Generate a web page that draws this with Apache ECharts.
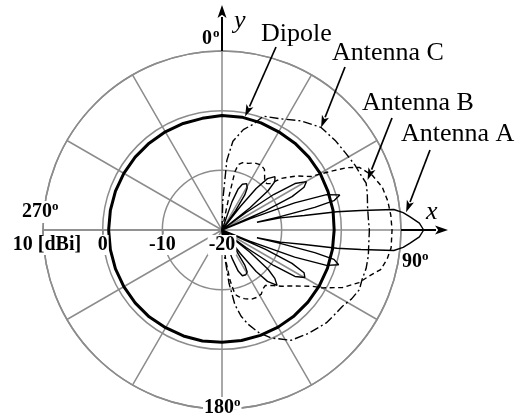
<!DOCTYPE html>
<html>
<head>
<meta charset="utf-8">
<script src="https://cdn.jsdelivr.net/npm/echarts@6/dist/echarts.min.js"></script>
<style>
  html, body { margin: 0; padding: 0; background: #fff; }
  #chart { width: 521px; height: 419px; }
</style>
</head>
<body>
<div id="chart"></div>
<script>
// Radiation patterns in the x-y plane: [angle in degrees (0 = +y, clockwise), gain in dBi]
const dipole = [
  [-90,-1],[-80,-1],[-70,-1],[-60,-1],[-50,-1],[-40,-1],[-30,-1],[-20,-1],[-10,-1],
  [0,-0.8],[10,-0.8],[20,-0.9],[30,-1],[40,-1],[50,-1],[60,-1],[70,-1.1],[80,-1.1],
  [90,-1.2],[100,-1.2],[110,-1.2],[120,-1.2],[130,-1.2],[140,-1.2],[150,-1.2],[160,-1.2],
  [170,-1.2],[180,-1.2],[190,-1.1],[200,-1.1],[210,-1.1],[220,-1],[230,-1],[240,-1],
  [250,-1],[260,-1],[270,-1]
];

const antennaA = [
  [0,-20],[18,-20],[19.5,-15],[21.5,-12.6],[24,-11.6],[28,-11.2],[31,-11.8],[33,-13],[35,-16],[36.5,-20],
  [38,-15],[39.5,-11],[41.5,-8.5],[44.8,-7.4],[47.5,-8.0],[49.5,-9.8],[51.5,-14],[52.5,-20],
  [54,-15],[55.5,-9.5],[57.5,-5.5],[60.2,-3.7],[62.5,-4.5],[64.5,-7],[66,-12],[67,-20],
  [68,-15],[69.5,-7],[71.3,-1.5],[73.4,0.6],[75.3,-0.6],[76.3,-4],[77,-10],[77.5,-14],
  [78.3,-10],[80,-6],[81,-0.5],[82,3.5],[83.2,9],[84.5,10.5],[86,11.6],[88,13.1],[90,13.8],
  [92,13.1],[94,11.6],[95.5,10.5],[96.8,9],[98,3.5],[99,-0.5],[100,-6],[101.7,-10],[102.5,-14],
  [103,-10],[103.7,-4],[104.7,-0.6],[106.6,0.4],[108.7,-1.5],[110.5,-7],[112,-15],[113,-20],
  [114,-12],[115.5,-7],[117.5,-4.5],[119.8,-4],[122.5,-5.5],[124.5,-9.5],[126,-15],[127.5,-20],
  [128.5,-14],[130.5,-9.8],[132.5,-8.0],[135.2,-6.9],[138.5,-8.5],[140.5,-11],[142,-15],[143.5,-20],
  [145,-16],[147,-13],[149,-11.8],[152,-11.5],[156,-11.6],[158.5,-12.6],[160.5,-15],[162,-20],[180,-20]
];

const antennaB = [
  [0,-20],[11,-20],[11.8,-14],[12.5,-10],[14,-8.7],[17,-8.2],[21.5,-8.0],[26,-7.5],[31,-7.3],
  [35,-7.6],[38,-8.4],[41,-9.1],[44,-9.2],[46,-8.8],[49,-6.8],[54,-4.6],[59,-2.6],[62,1.2],
  [63.5,3.4],[65.5,5.3],[70,6.8],[75,7.8],[80,8.2],[85,8.4],[90,8.5],[96,8.5],[100,8.1],
  [104,7.4],[107.5,5.8],[111,4.6],[115.5,2.4],[120,-0.6],[122,-2.2],[125,-3.6],[130,-5.4],
  [133.5,-6.3],[138,-7.5],[142,-8.2],[145,-8.0],[148.5,-7.4],[153,-7.3],[157,-7.4],[162,-7.9],
  [166,-8.5],[168.6,-9.0],[171,-11.5],[173,-15],[174,-20],[180,-20]
];

const antennaC = [
  [0,-20],[1.5,-15],[4,-8.3],[7,-5],[12,-2.8],[16.5,-1.5],[20,0.3],[28,1.1],[36,2.6],[44,3.9],
  [52,4.2],[58,4.4],[64,4.8],[68,5.0],[72,5.4],[76,5.1],[81,4.7],[86,4.6],[90,4.7],[95,4.7],
  [100,4.9],[105,5.0],[109.5,4.9],[113.5,5.1],[118,4.6],[122.3,3.9],[127,3.6],[131.7,3.4],
  [140,2.6],[148,1.8],[155.4,-0.1],[160,-1.6],[164.5,-3.6],[167.5,-5.2],[170.2,-7.3],
  [172.5,-11],[174,-15.3],[176,-20],[180,-20]
];

// Gain scale of the grid and its labels; the pattern scale reaches past the outer ring
const gainMin = -20, gainMax = 10, gainStep = 10, patternMax = 15;
const gainLabels = { '-20': '-20', '-10': '-10', '0': '0', '10': '{unit|10 [dBi]}' };

const GRID = '#8c8c8c';
const SERIF = '"Liberation Serif", "Times New Roman", serif';
const CENTER = [222, 230];
const RADIUS = 179;
// same dB-per-pixel scale as the grid, extended so the main lobe is not cut off
const PATTERN_RADIUS = RADIUS * (patternMax - gainMin) / (gainMax - gainMin);

const chart = echarts.init(document.getElementById('chart'), null, { renderer: 'canvas' });

// 0 deg at the top, clockwise; the gain axis runs out along 270 deg
const angleBase = { type: 'value', startAngle: 180, min: -90, max: 270, interval: 30, clockwise: true };
const toPolar = arr => arr.map(([a, g]) => [g, a]);

function patternSeries(name, data, lineStyle) {
  return {
    name, type: 'line', coordinateSystem: 'polar', polarIndex: 2,
    data: toPolar(data), showSymbol: false, symbol: 'none', clip: false,
    silent: true, smooth: false, lineStyle, z: 3
  };
}

chart.setOption({
  animation: false,
  polar: [
    { center: CENTER, radius: RADIUS },
    { center: CENTER, radius: RADIUS },
    { center: CENTER, radius: PATTERN_RADIUS }
  ],
  angleAxis: [
    Object.assign({ polarIndex: 0,
      axisLine: { lineStyle: { color: GRID, width: 1.5 } },
      axisTick: { show: false }, axisLabel: { show: false },
      splitLine: { lineStyle: { color: GRID, width: 1.5 } } }, angleBase),
    Object.assign({ polarIndex: 1, show: false }, angleBase),
    Object.assign({ polarIndex: 2, show: false }, angleBase)
  ],
  radiusAxis: [
    { polarIndex: 0, type: 'value', min: gainMin, max: gainMax, interval: gainStep,
      axisLine: { lineStyle: { color: GRID, width: 1.5 } },
      axisTick: { show: true, length: 4, lineStyle: { color: GRID, width: 1.5 } },
      axisLabel: { show: false },
      splitLine: { lineStyle: { color: GRID, width: 1.5 } } },
    { polarIndex: 1, type: 'value', min: gainMin, max: gainMax, interval: gainStep, z: 10,
      axisLine: { show: false }, axisTick: { show: false }, splitLine: { show: false },
      axisLabel: { show: true, margin: 5, color: '#000', fontFamily: SERIF, fontWeight: 'bold',
        fontSize: 20, backgroundColor: '#fff', padding: [0, 1],
        rich: { unit: { fontFamily: SERIF, fontWeight: 'bold', fontSize: 20, color: '#000', padding: [0, 0, 0, 8] } },
        formatter: v => gainLabels[String(v)] } },
    { polarIndex: 2, type: 'value', min: gainMin, max: patternMax, show: false }
  ],
  series: [
    patternSeries('Dipole', dipole, { color: '#000', width: 3 }),
    patternSeries('Antenna C', antennaC, { color: '#000', width: 1.4, type: [9, 3, 2, 3] }),
    patternSeries('Antenna B', antennaB, { color: '#000', width: 1.4, type: [5, 3.5] }),
    patternSeries('Antenna A', antennaA, { color: '#000', width: 1.4 })
  ]
});

// Annotations: axis arrows, angle marks, pattern callouts
const px = (g, a) => chart.convertToPixel({ polarIndex: 2 }, [g, a]);

function arrow(from, to, width, headLen, headHalf) {
  const dx = to[0] - from[0], dy = to[1] - from[1];
  const len = Math.hypot(dx, dy), ux = dx / len, uy = dy / len;
  const bx = to[0] - ux * headLen, by = to[1] - uy * headLen;
  return [
    { type: 'line', silent: true, z: 20,
      shape: { x1: from[0], y1: from[1], x2: bx + ux * 1, y2: by + uy * 1 },
      style: { stroke: '#000', lineWidth: width } },
    { type: 'polygon', silent: true, z: 20,
      shape: { points: [to, [bx - uy * headHalf, by + ux * headHalf], [bx + ux * headLen * 0.25, by + uy * headLen * 0.25], [bx + uy * headHalf, by - ux * headHalf]] },
      style: { fill: '#000' } }
  ];
}

function degLabel(x, y, digits, oX) {
  return [
    { type: 'text', silent: true, z: 15,
      style: { x, y, text: digits, textAlign: 'left', textVerticalAlign: 'middle',
        font: 'bold 20px ' + SERIF, fill: '#000', backgroundColor: '#fff', padding: [1, 0, 1, 1] } },
    { type: 'text', silent: true, z: 15,
      style: { x: oX, y: y - 5, text: 'o', textAlign: 'left', textVerticalAlign: 'middle',
        font: 'bold 13px ' + SERIF, fill: '#000', backgroundColor: '#fff', padding: [0, 1, 0, 0] } }
  ];
}

function callout(x, y, text) {
  return { type: 'text', silent: true, z: 15,
    style: { x, y, text, textAlign: 'left', textVerticalAlign: 'middle',
      font: '26px ' + SERIF, fill: '#000' } };
}

const yStart = px(gainMax, 0), xStart = px(gainMax, 90);
const graphics = [].concat(
  arrow(yStart, [yStart[0], 5], 2, 13, 4.5),
  arrow(xStart, [448, xStart[1]], 2, 13, 4.5),
  [{ type: 'text', silent: true, z: 15, style: { x: 234, y: 21, text: 'y', textAlign: 'left',
      textVerticalAlign: 'middle', font: 'italic 26px ' + SERIF, fill: '#000' } },
   { type: 'text', silent: true, z: 15, style: { x: 426, y: 212, text: 'x', textAlign: 'left',
      textVerticalAlign: 'middle', font: 'italic 26px ' + SERIF, fill: '#000' } }],
  degLabel(201, 39, '0', 213),
  degLabel(21, 212, '270', 52),
  degLabel(401, 262, '90', 422),
  degLabel(203, 408, '180', 234),
  [callout(261, 34, 'Dipole'), callout(332, 53, 'Antenna C'),
   callout(362, 103, 'Antenna B'), callout(401, 134, 'Antenna A')],
  arrow([276, 47], px(-0.6, 11.5), 1.7, 12, 3.8),
  arrow([345, 67], px(3.9, 44), 1.7, 12, 3.8),
  arrow([392, 118], px(5.8, 71), 1.7, 12, 3.8),
  arrow([430, 150], px(11, 84.5), 1.7, 12, 3.8)
);
chart.setOption({ graphic: graphics });
</script>
</body>
</html>
